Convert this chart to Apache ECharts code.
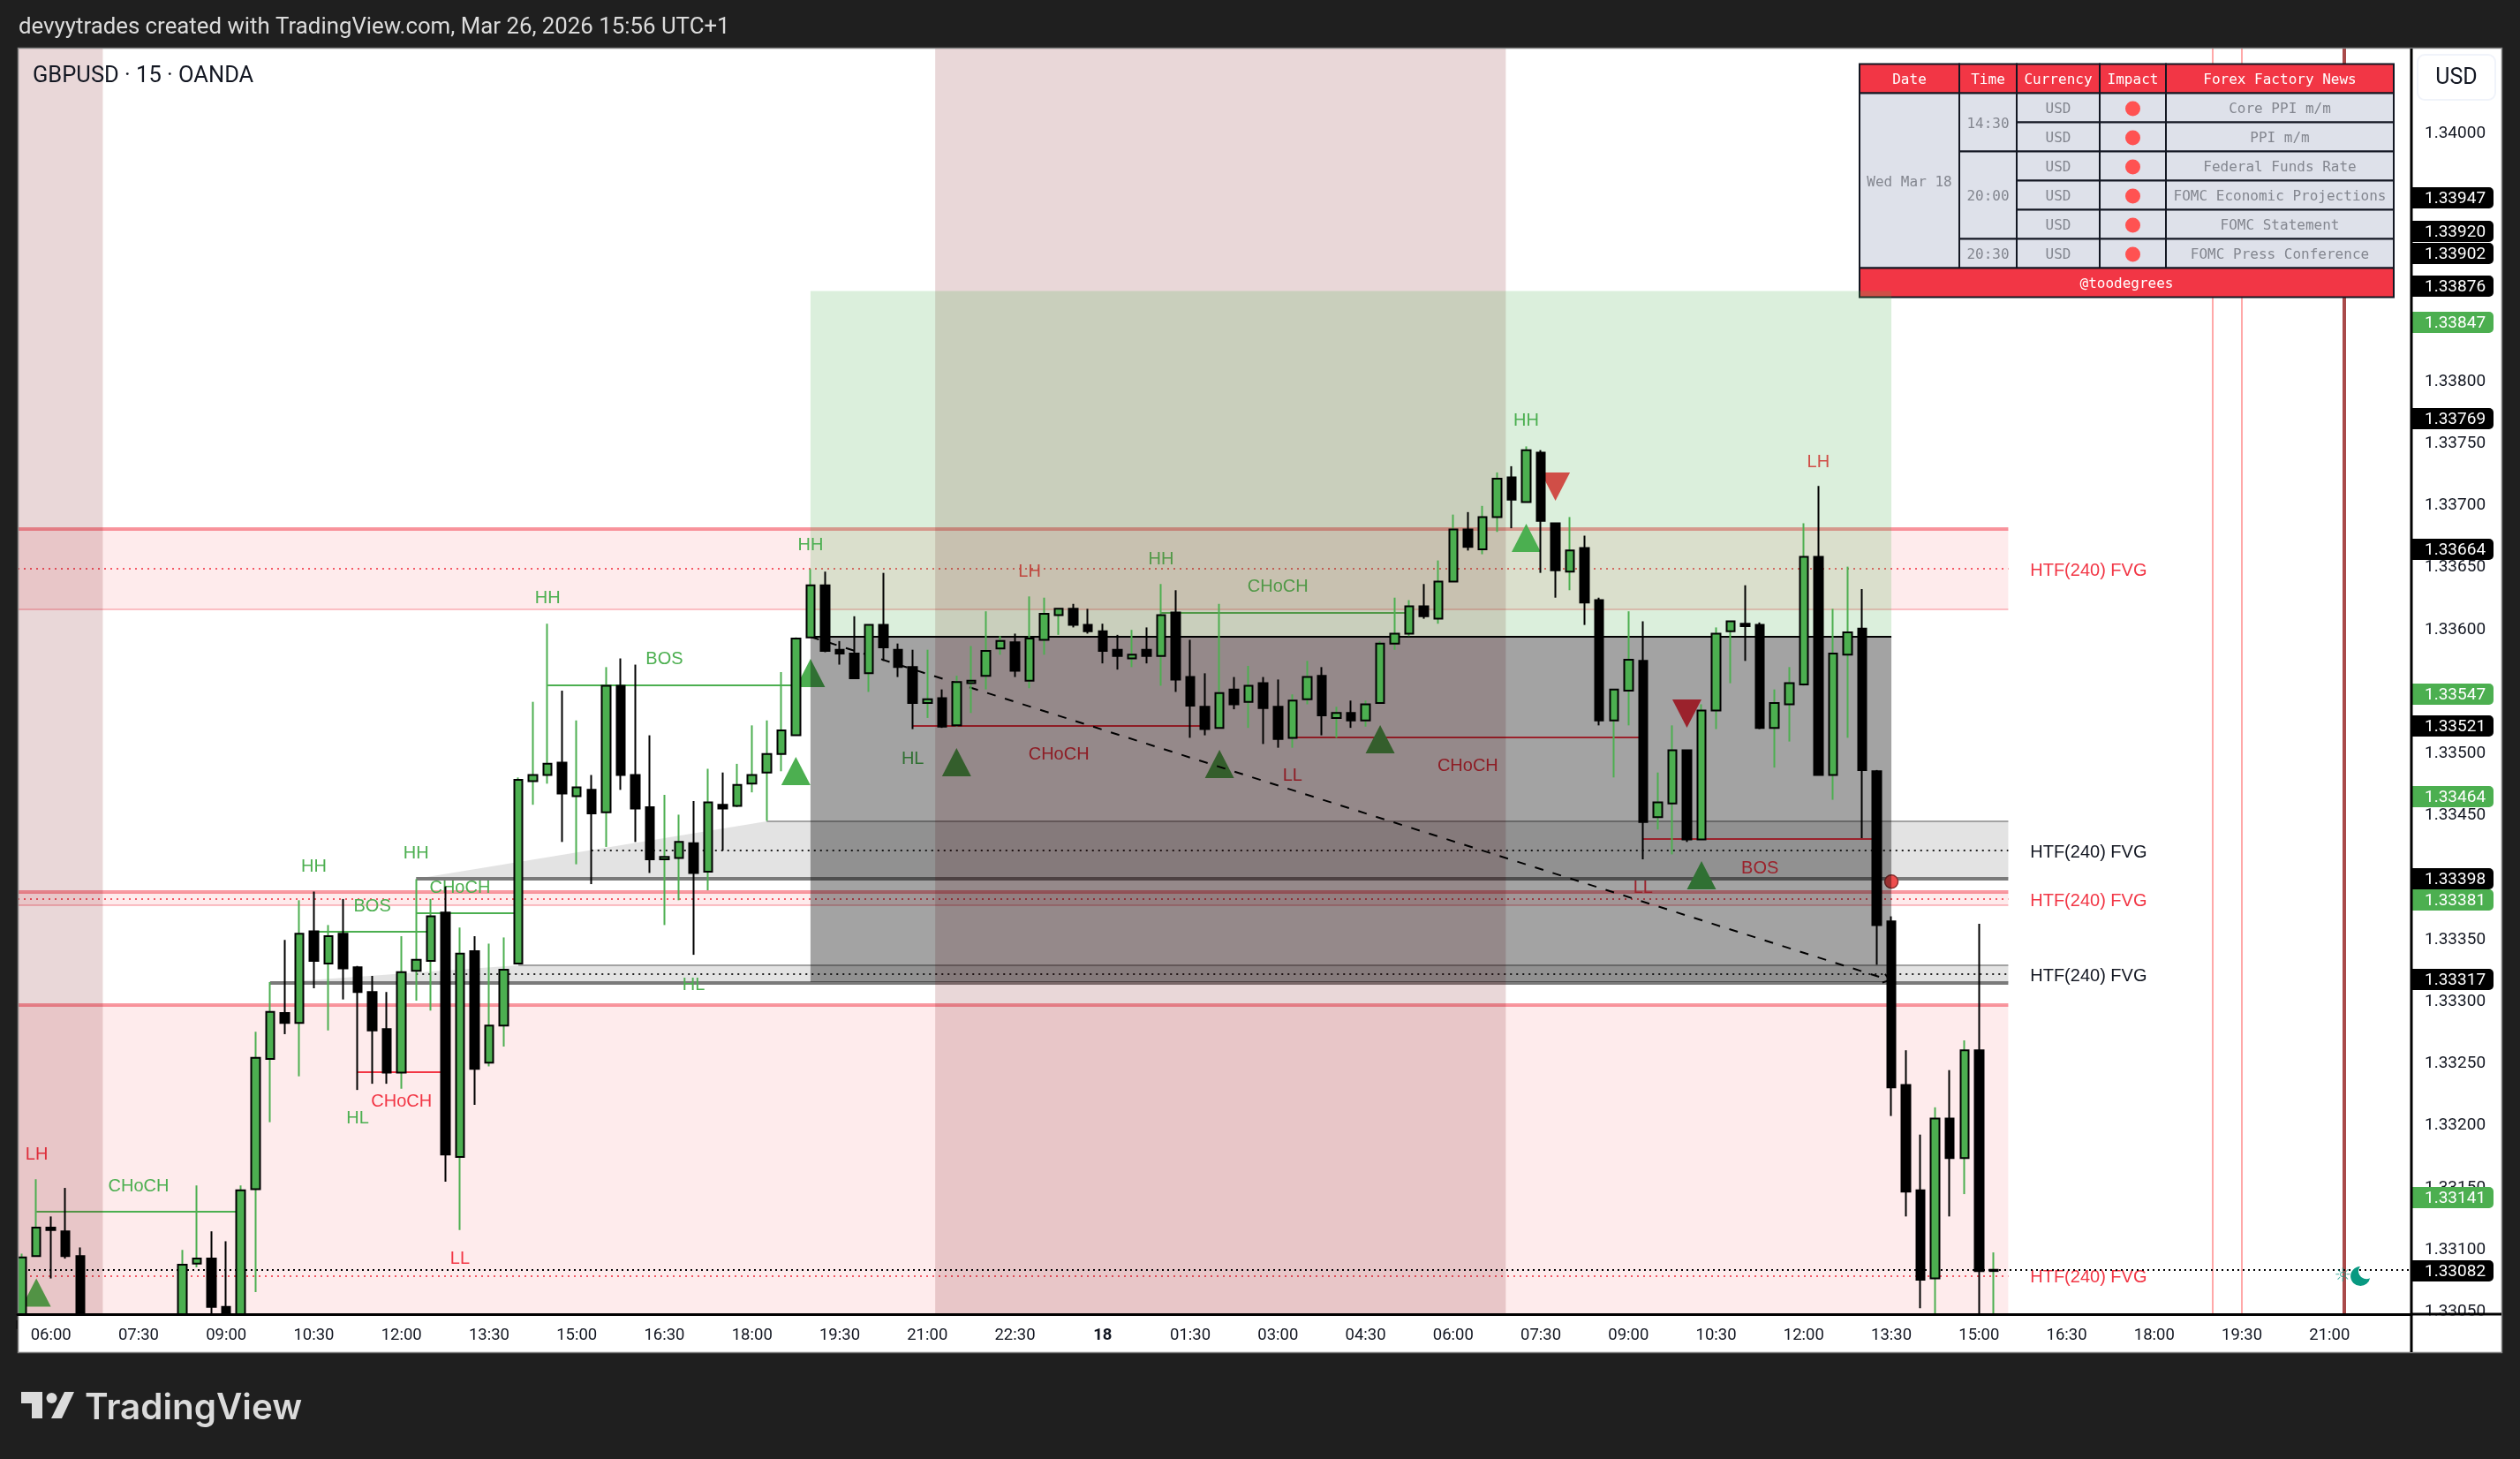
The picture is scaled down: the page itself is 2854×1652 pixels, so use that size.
<!DOCTYPE html>
<html><head><meta charset="utf-8">
<style>html,body{margin:0;padding:0;background:#1f1f1f}#c{width:2854px;height:1652px}</style>
<script src="https://cdn.jsdelivr.net/npm/echarts@6/dist/echarts.min.js"></script>
</head><body><div id="c"></div>
<script>
// ---- candles (15 minute bars, index 0 = first bar on the chart) ----
const opens = [
1.33035,1.33093,1.33116,1.33113,1.33093,1.33030,1.33022,1.33028,1.33030,1.33024,
1.33030,1.33040,1.33087,1.33091,1.33052,1.33042,1.33147,1.33252,1.33289,1.33281,
1.33355,1.33329,1.33353,1.33326,1.33306,1.33276,1.33241,1.33323,1.33331,1.33370,
1.33173,1.33339,1.33249,1.33279,1.33329,1.33476,1.33481,1.33491,1.33464,1.33469,
1.33451,1.33553,1.33481,1.33455,1.33413,1.33414,1.33426,1.33403,1.33457,1.33456,
1.33474,1.33483,1.33498,1.33513,1.33592,1.33634,1.33582,1.33579,1.33563,1.33602,
1.33582,1.33568,1.33539,1.33543,1.33521,1.33555,1.33561,1.33583,1.33588,1.33557,
1.33590,1.33610,1.33615,1.33602,1.33597,1.33582,1.33575,1.33582,1.33577,1.33612,
1.33560,1.33536,1.33519,1.33550,1.33540,1.33555,1.33536,1.33511,1.33542,1.33561,
1.33527,1.33531,1.33525,1.33539,1.33587,1.33595,1.33617,1.33607,1.33637,1.33679,
1.33663,1.33689,1.33721,1.33701,1.33741,1.33684,1.33645,1.33664,1.33622,1.33525,
1.33549,1.33573,1.33447,1.33458,1.33501,1.33429,1.33533,1.33597,1.33603,1.33602,
1.33519,1.33538,1.33554,1.33657,1.33481,1.33578,1.33599,1.33484,1.33363,1.33231,
1.33146,1.33075,1.33204,1.33172,1.33259,1.33081];
const closes = [
1.33092,1.33116,1.33114,1.33093,1.33030,1.33022,1.33028,1.33030,1.33024,1.33030,
1.33036,1.33086,1.33091,1.33052,1.33040,1.33146,1.33253,1.33290,1.33281,1.33353,
1.33331,1.33351,1.33325,1.33306,1.33275,1.33241,1.33322,1.33332,1.33367,1.33175,
1.33337,1.33244,1.33279,1.33324,1.33477,1.33481,1.33490,1.33466,1.33471,1.33450,
1.33553,1.33481,1.33454,1.33413,1.33415,1.33427,1.33402,1.33459,1.33454,1.33473,
1.33481,1.33498,1.33517,1.33591,1.33634,1.33581,1.33579,1.33559,1.33602,1.33584,
1.33568,1.33539,1.33542,1.33520,1.33556,1.33557,1.33581,1.33589,1.33565,1.33591,
1.33611,1.33615,1.33602,1.33597,1.33581,1.33577,1.33578,1.33577,1.33610,1.33558,
1.33537,1.33518,1.33547,1.33538,1.33553,1.33535,1.33510,1.33541,1.33560,1.33529,
1.33531,1.33525,1.33538,1.33587,1.33595,1.33617,1.33609,1.33637,1.33679,1.33665,
1.33689,1.33720,1.33703,1.33743,1.33686,1.33646,1.33662,1.33620,1.33525,1.33550,
1.33574,1.33443,1.33459,1.33501,1.33429,1.33533,1.33595,1.33605,1.33601,1.33519,
1.33539,1.33555,1.33657,1.33481,1.33579,1.33596,1.33485,1.33360,1.33229,1.33145,
1.33074,1.33204,1.33172,1.33259,1.33081,1.33082];
const lows = [
1.33030,1.33093,1.33075,1.33091,1.33025,1.33015,1.33018,1.33020,1.33016,1.33020,
1.33025,1.33035,1.33084,1.33040,1.33030,1.33038,1.33064,1.33201,1.33272,1.33238,
1.33309,1.33275,1.33300,1.33227,1.33232,1.33232,1.33228,1.33299,1.33291,1.33153,
1.33114,1.33215,1.33246,1.33262,1.33329,1.33457,1.33474,1.33427,1.33409,1.33393,
1.33423,1.33469,1.33427,1.33402,1.33360,1.33380,1.33336,1.33388,1.33420,1.33455,
1.33467,1.33444,1.33484,1.33513,1.33592,1.33580,1.33570,1.33559,1.33548,1.33573,
1.33560,1.33518,1.33527,1.33519,1.33520,1.33531,1.33550,1.33578,1.33560,1.33551,
1.33578,1.33594,1.33600,1.33595,1.33571,1.33566,1.33568,1.33571,1.33553,1.33548,
1.33511,1.33513,1.33519,1.33534,1.33519,1.33506,1.33503,1.33503,1.33538,1.33513,
1.33511,1.33519,1.33520,1.33539,1.33582,1.33593,1.33607,1.33603,1.33637,1.33662,
1.33659,1.33677,1.33680,1.33701,1.33644,1.33624,1.33630,1.33602,1.33521,1.33479,
1.33521,1.33413,1.33437,1.33417,1.33427,1.33429,1.33518,1.33555,1.33573,1.33518,
1.33487,1.33508,1.33553,1.33481,1.33461,1.33511,1.33430,1.33328,1.33206,1.33125,
1.33051,1.33035,1.33125,1.33143,1.33040,1.33038];
const highs = [
1.33095,1.33155,1.33125,1.33148,1.33100,1.33038,1.33035,1.33040,1.33036,1.33040,
1.33042,1.33098,1.33150,1.33113,1.33105,1.33150,1.33274,1.33314,1.33348,1.33380,
1.33387,1.33360,1.33381,1.33327,1.33319,1.33306,1.33351,1.33397,1.33381,1.33391,
1.33358,1.33351,1.33345,1.33350,1.33479,1.33540,1.33603,1.33549,1.33525,1.33481,
1.33568,1.33575,1.33570,1.33513,1.33465,1.33449,1.33460,1.33486,1.33483,1.33490,
1.33521,1.33525,1.33564,1.33592,1.33647,1.33645,1.33589,1.33609,1.33602,1.33644,
1.33587,1.33582,1.33582,1.33550,1.33561,1.33585,1.33613,1.33593,1.33595,1.33625,
1.33624,1.33615,1.33619,1.33615,1.33603,1.33594,1.33598,1.33600,1.33635,1.33630,
1.33590,1.33563,1.33619,1.33560,1.33569,1.33560,1.33558,1.33546,1.33573,1.33568,
1.33536,1.33541,1.33541,1.33589,1.33624,1.33622,1.33635,1.33654,1.33691,1.33693,
1.33698,1.33725,1.33730,1.33746,1.33743,1.33684,1.33689,1.33674,1.33624,1.33550,
1.33613,1.33605,1.33483,1.33521,1.33501,1.33538,1.33600,1.33605,1.33634,1.33604,
1.33550,1.33568,1.33684,1.33714,1.33615,1.33649,1.33631,1.33485,1.33367,1.33259,
1.33191,1.33213,1.33243,1.33267,1.33361,1.33096];

// ---- axes ----
const tickBars = [2,8,14,20,26,32,38,44,50,56,62,68,74,80,86,92,98,104,110,116,122,128,134,140,146,152,158];
const tickLabels = ['06:00','07:30','09:00','10:30','12:00','13:30','15:00','16:30','18:00','19:30','21:00','22:30','18','01:30','03:00','04:30','06:00','07:30','09:00','10:30','12:00','13:30','15:00','16:30','18:00','19:30','21:00'];
const priceTicks = [1.34,1.338,1.3375,1.337,1.3365,1.336,1.335,1.3345,1.3335,1.333,1.3325,1.332,1.3315,1.331,1.3305];
const barMin = -0.278, barMax = 163.6, priceMin = 1.330462, priceMax = 1.340668;

// ---- FVG zones: start bar, bar where top edge is reached, end bar, top, bottom, middle, middle start bar ----
const redZones = [
 [-0.278,-0.278,136,1.336797,1.336149,1.336473,-0.278],
 [-0.278,-0.278,136,1.333863,1.333759,1.333809,-0.278],
 [-0.278,-0.278,136,1.332957,1.330462,1.330771,-0.278]];
const greyZones = [
 [27,51,136,1.334436,1.333973,1.334199,39],
 [17,34,136,1.333275,1.333133,1.333204,27]];
const fvgLabelBars = [137.5,137.5,137.5,137.5,137.5];
const fvgLabelPrices = [1.336473,1.334199,1.333809,1.333204,1.330771];
const fvgLabelText = ['HTF(240) FVG','HTF(240) FVG','HTF(240) FVG','HTF(240) FVG','HTF(240) FVG'];
const fvgLabelKinds = ['r','k','r','k','r'];

// ---- structure lines: start bar, end bar, price ----
const greenLines = [[1,15,1.331288],[20,28,1.333546],[27,34,1.333695],[36,53,1.335534],[78,95,1.336117]];
const redLines = [[23,29,1.332415],[61,81,1.335205],[87,111,1.335113],[111,127,1.334294]];

const labelText = ['LH','CHoCH','HH','BOS','HH','CHoCH','CHoCH','HL','LL','HL','HH','BOS','HH','HL','LH','CHoCH','HH','LL','CHoCH','CHoCH','HH','LH','LL','BOS'];
const labelKinds = ['r','g','g','g','g','g','r','g','r','g','g','g','g','g','r','r','g','r','g','r','g','r','r','r'];
const labelBars = [1.03,8,20,24,27,30,26,23,30,46,36,44,54,61,69,71,78,87,86,99,103,123,111,119];
const labelPrices = [1.331765,1.331509,1.334087,1.33376,1.334187,1.333916,1.332188,1.332052,1.330925,1.333128,1.336249,1.335754,1.336675,1.334954,1.336466,1.334985,1.336561,1.334814,1.336338,1.334894,1.337677,1.337349,1.333916,1.334073];

// ---- signals ----
const upSignals = [[1,1.330637],[53,1.334842],[54,1.335633],[64,1.334913],[82,1.334899],[93,1.335098],[103,1.336722],[115,1.334002]];
const downSignals = [[105,1.337136],[114,1.335305]];
const alertDot = [[128,1.333950]];

// ---- shaded sessions and position tool ----
const sessionBars = [[-0.278,5.55],[62.54,101.6]];
const sessionVerticals = [150,152];
const nowVertical = [159];
const position = {start:54, end:128, target:1.338713, entry:1.335925, stop:1.33314};
const pathBars = [54,127.9];
const pathPrices = [1.335925,1.333155];
const lastPrice = 1.33082;
const iconBars = [158.9,160.1];
const iconPrice = 1.330768;

// ---- price tags ----
const tagValues = [1.33947,1.33920,1.33902,1.33876,1.33847,1.33769,1.33664,1.33547,1.33521,1.33464,1.33398,1.33381,1.33317,1.33141,1.33082];
const tagKinds  = ['k','k','k','k','g','k','k','g','k','g','k','g','k','g','k'];

// ---- news table ----
const tableHeaders = ['Date','Time','Currency','Impact','Forex Factory News'];
const newsDate = 'Wed Mar 18';
const newsTimes = [['14:30',2],['20:00',3],['20:30',1]];
const newsCurrency = ['USD','USD','USD','USD','USD','USD'];
const newsTitles = ['Core PPI m/m','PPI m/m','Federal Funds Rate','FOMC Economic Projections','FOMC Statement','FOMC Press Conference'];
const tableFooter = '@toodegrees';

const GREEN='#4CAF50', RED='#F23645';
const LAB='"Liberation Sans",Arial,sans-serif', AX='Roboto,sans-serif', MONO='"DejaVu Sans Mono",monospace';
const idx = opens.map((_,i)=>i);

function line(x1,y1,x2,y2,style){return {type:'line',shape:{x1,y1,x2,y2},style:Object.assign({fill:null},style)};}
function rnd(v){return Math.round(v);}

function zoneItem(colors){return function(p,api){
  const xs=api.coord([api.value(0),api.value(3)]), xk=api.coord([api.value(1),api.value(3)]), xe=api.coord([api.value(2),api.value(3)]);
  const yb=api.coord([api.value(0),api.value(4)])[1], ym=rnd(api.coord([api.value(6),api.value(5)])[1]), xm=api.coord([api.value(6),api.value(5)])[0];
  const yt=xs[1];
  return {type:'group',children:[
    {type:'polygon',shape:{points:[[xs[0],yb],[xk[0],yt],[xe[0],yt],[xe[0],yb]]},style:{fill:colors.fill}},
    line(xk[0],rnd(yt),xe[0],rnd(yt),{stroke:colors.top,lineWidth:colors.topW}),
    line(xs[0],rnd(yb),xe[0],rnd(yb),{stroke:colors.bottom,lineWidth:colors.botW}),
    line(xm,ym,xe[0],ym,{stroke:colors.mid,lineWidth:2,lineDash:[2,5]})
  ]};
};}
function segItem(color){return function(p,api){
  const a=api.coord([api.value(0),api.value(2)]), b=api.coord([api.value(1),api.value(2)]);
  return line(a[0],rnd(a[1]),b[0],rnd(a[1]),{stroke:color,lineWidth:2});
};}
function textSeries(z,xs,ys,texts,kinds,align){
  const col={g:GREEN,r:RED,k:'#131722'};
  return {type:'custom',coordinateSystem:'cartesian2d',z,clip:false,silent:true,animation:false,
    data:xs.map((x,i)=>[x,ys[i]]),
    renderItem(p,api){
      const c=api.coord([api.value(0),api.value(1)]);
      return {type:'text',x:c[0],y:c[1]+2,style:{text:texts[p.dataIndex],fill:col[kinds[p.dataIndex]],font:'20px '+LAB,align,verticalAlign:'middle'}};
    }};
}

const series = [
 // vertical session lines
 {type:'custom',coordinateSystem:'cartesian2d',z:1,clip:true,silent:true,animation:false,
  data:sessionVerticals.map(b=>[b,priceMin]),
  renderItem(p,api){const x=rnd(api.coord([api.value(0),priceMin])[0]);return line(x,p.coordSys.y,x,p.coordSys.y+p.coordSys.height,{stroke:'#FFA8A8',lineWidth:2});}},
 {type:'custom',coordinateSystem:'cartesian2d',z:1,clip:true,silent:true,animation:false,
  data:nowVertical.map(b=>[b,priceMin]),
  renderItem(p,api){const x=rnd(api.coord([api.value(0),priceMin])[0]);return line(x,p.coordSys.y,x,p.coordSys.y+p.coordSys.height,{stroke:'#A94A4A',lineWidth:4});}},
 // FVG zones
 {type:'custom',coordinateSystem:'cartesian2d',z:2,clip:true,silent:true,animation:false,data:redZones,
  renderItem:zoneItem({fill:'rgba(242,54,69,0.1)',top:'rgba(242,54,69,0.5)',bottom:'rgba(242,54,69,0.3)',mid:'rgba(242,54,69,0.8)',topW:4,botW:2})},
 {type:'custom',coordinateSystem:'cartesian2d',z:2.1,clip:true,silent:true,animation:false,data:greyZones,
  renderItem:zoneItem({fill:'rgba(90,90,90,0.17)',top:'#A3A3A3',bottom:'#7A7A7A',mid:'#222',topW:2,botW:4})},
 textSeries(3,fvgLabelBars,fvgLabelPrices,fvgLabelText,fvgLabelKinds,'left'),
 // structure
 {type:'custom',coordinateSystem:'cartesian2d',z:3,clip:true,silent:true,animation:false,data:greenLines,renderItem:segItem(GREEN)},
 {type:'custom',coordinateSystem:'cartesian2d',z:3,clip:true,silent:true,animation:false,data:redLines,renderItem:segItem(RED)},
 textSeries(3.1,labelBars,labelPrices,labelText,labelKinds,'center'),
 // signals
 {type:'scatter',z:3.2,silent:true,animation:false,symbol:'triangle',symbolSize:[33,32],itemStyle:{color:GREEN,opacity:1},data:upSignals,clip:true},
 {type:'scatter',z:3.2,silent:true,animation:false,symbol:'triangle',symbolRotate:180,symbolSize:[33,32],itemStyle:{color:RED,opacity:1},data:downSignals,clip:true},
 {type:'scatter',z:3.3,silent:true,animation:false,symbol:'circle',symbolSize:15,itemStyle:{color:'#EF4E4E',borderColor:'#8A3030',borderWidth:1.5,opacity:1},data:alertDot,clip:false},
 // sessions
 {type:'custom',coordinateSystem:'cartesian2d',z:4.5,clip:true,silent:true,animation:false,
  data:sessionBars,
  renderItem(p,api){const a=api.coord([api.value(0),priceMax]),b=api.coord([api.value(1),priceMin]);return {type:'rect',shape:{x:a[0],y:a[1],width:b[0]-a[0],height:b[1]-a[1]},style:{fill:'rgba(120,5,10,0.16)'}};}},
 // position tool
 {type:'custom',coordinateSystem:'cartesian2d',z:5,clip:true,silent:true,animation:false,
  data:[[position.start,position.end,position.target,position.entry,position.stop]],
  renderItem(p,api){
   const a=api.coord([api.value(0),api.value(2)]),b=api.coord([api.value(1),api.value(3)]),c=api.coord([api.value(1),api.value(4)]);
   return {type:'group',children:[
    {type:'rect',shape:{x:a[0],y:a[1],width:b[0]-a[0],height:b[1]-a[1]},style:{fill:'rgba(76,175,80,0.2)'}},
    {type:'rect',shape:{x:a[0],y:b[1],width:b[0]-a[0],height:c[1]-b[1]},style:{fill:'rgba(0,0,0,0.36)'}},
    line(a[0],rnd(b[1]),b[0],rnd(b[1]),{stroke:'#000',lineWidth:2})
   ]};
  }},
 // dashed path with arrow head
 {type:'custom',coordinateSystem:'cartesian2d',z:6,clip:true,silent:true,animation:false,
  data:[[pathBars[0],pathPrices[0],pathBars[1],pathPrices[1]]],
  renderItem(p,api){
   const a=api.coord([api.value(0),api.value(1)]),b=api.coord([api.value(2),api.value(3)]);
   const ang=Math.atan2(b[1]-a[1],b[0]-a[0]),s=9;
   return {type:'group',children:[
    line(a[0],a[1],b[0],b[1],{stroke:'#000',lineWidth:2,lineDash:[10,11]}),
    line(b[0],b[1],b[0]-s*Math.cos(ang-0.6),b[1]-s*Math.sin(ang-0.6),{stroke:'#000',lineWidth:2}),
    line(b[0],b[1],b[0]-s*Math.cos(ang+0.6),b[1]-s*Math.sin(ang+0.6),{stroke:'#000',lineWidth:2})
   ]};
  }},
 // last price line
 {type:'custom',coordinateSystem:'cartesian2d',z:6.1,clip:true,silent:true,animation:false,
  data:[[barMin,barMax,lastPrice]],
  renderItem(p,api){const a=api.coord([api.value(0),api.value(2)]),b=api.coord([api.value(1),api.value(2)]);return line(a[0],rnd(a[1]),b[0],rnd(a[1]),{stroke:'#000',lineWidth:2,lineDash:[2,4]});}},
 // candles: wicks, then bodies
 {type:'candlestick',z:7,silent:true,animation:false,barWidth:0,clip:true,
  itemStyle:{color:GREEN,color0:'#000',borderColor:GREEN,borderColor0:'#000',borderWidth:2},
  data:idx.map(i=>[i,opens[i],closes[i],lows[i],highs[i]])},
 {type:'candlestick',z:7.1,silent:true,animation:false,barWidth:10,clip:true,
  itemStyle:{color:GREEN,color0:'#000',borderColor:'#000',borderColor0:'#000',borderWidth:2},
  data:idx.map(i=>[i,opens[i],closes[i],Math.min(opens[i],closes[i]),Math.max(opens[i],closes[i])])},
 // session icons
 {type:'custom',coordinateSystem:'cartesian2d',z:8,clip:false,silent:true,animation:false,data:[[iconBars[0],iconPrice]],
  renderItem(p,api){const c=api.coord([api.value(0),api.value(1)]);return {type:'text',x:c[0],y:c[1],style:{text:'☼',fill:'rgba(8,153,129,0.75)',font:'22px "DejaVu Sans"',align:'center',verticalAlign:'middle'}};}},
 {type:'scatter',z:8,silent:true,animation:false,symbol:'path://M12 2 A10 10 0 1 0 22 14 A8 8 0 0 1 12 2 Z',symbolSize:22,itemStyle:{color:'#089981',opacity:1},data:[[iconBars[1],iconPrice]]},
 // price tags
 {type:'custom',coordinateSystem:'cartesian2d',z:20,clip:false,silent:true,animation:false,
  data:tagValues.map(v=>[barMax,v]),
  renderItem(p,api){
   const c=api.coord([api.value(0),api.value(1)]),y=rnd(c[1])+1;
   return {type:'group',children:[
    {type:'rect',shape:{x:c[0]+1,y:y-12,width:92,height:24,r:[0,5,5,0]},style:{fill:tagKinds[p.dataIndex]==='g'?GREEN:'#000'}},
    {type:'text',x:c[0]+15,y:y+1,style:{text:api.value(1).toFixed(5),fill:'#fff',font:'19px '+AX,align:'left',verticalAlign:'middle'}}
   ]};
  }}
];

// ---- static furniture ----
const els = [];
els.push({type:'rect',z:-2,shape:{x:20.5,y:54.5,width:2813,height:1477},style:{fill:'#fff'}});
// panes that mask what runs past the plot area
els.push({type:'rect',z:18,shape:{x:21,y:1489.5,width:2812,height:41},style:{fill:'#fff'}});
els.push({type:'rect',z:18,shape:{x:0,y:50,width:20.5,height:1445},style:{fill:'#1F1F1F'}});
els.push({type:'rect',z:18.5,shape:{x:20.5,y:54.5,width:2813,height:1477},style:{fill:null,stroke:'#808080',lineWidth:1.5}});
els.push({type:'rect',z:21,shape:{x:2729.5,y:55,width:3,height:1476},style:{fill:'#000'}});
els.push({type:'rect',z:21,shape:{x:2731,y:1486.5,width:102,height:3},style:{fill:'#000'}});
els.push({type:'rect',z:1,shape:{x:2738,y:62,width:88,height:51,r:8},style:{fill:'#fff',stroke:'#F0F3FA',lineWidth:2}});
function txt(x,y,text,font,fill,align,z){els.push({type:'text',z:z||4,x,y:y+2,style:{text,font,fill,align:align||'center',verticalAlign:'middle'}});}
txt(2782,87,'USD','25px '+AX,'#131722','center',2);
txt(21,30,'devyytrades created with TradingView.com, Mar 26, 2026 15:56 UTC+1','25.8px '+AX,'#DBDBDB','left',2);
txt(37,85,'GBPUSD · 15 · OANDA','25.5px '+AX,'#131722','left',9);
txt(96,1593,'TradingView','600 40.4px Inter,'+AX,'#DBDBDB','left',2);
els.push({type:'polygon',z:2,shape:{points:[[24,1576],[48,1576],[48,1606],[36,1606],[36,1589],[24,1589]]},style:{fill:'#DBDBDB'}});
els.push({type:'circle',z:2,shape:{cx:58.5,cy:1583,r:6},style:{fill:'#DBDBDB'}});
els.push({type:'polygon',z:2,shape:{points:[[73,1576],[84,1576],[70,1606],[58,1606]]},style:{fill:'#DBDBDB'}});
// table
const colX=[2106,2219,2284,2378,2453,2711], rowY=[72.5,105.5,138.5,171.5,204.5,237.5,270.5,303.5,336.5];
const TF='16px '+MONO, HEAD=RED, CELL='#DEE1EA', INK='#83868F';
function cell(x0,y0,x1,y1,fill){els.push({type:'rect',z:4,shape:{x:x0,y:y0,width:x1-x0,height:y1-y0},style:{fill,stroke:'#131722',lineWidth:2}});}
tableHeaders.forEach((h,i)=>{cell(colX[i],rowY[0],colX[i+1],rowY[1],HEAD);txt((colX[i]+colX[i+1])/2,(rowY[0]+rowY[1])/2,h,TF,'#fff');});
cell(colX[0],rowY[1],colX[1],rowY[7],CELL);txt((colX[0]+colX[1])/2,(rowY[1]+rowY[7])/2,newsDate,TF,INK);
let r=1;newsTimes.forEach(([t,n])=>{cell(colX[1],rowY[r],colX[2],rowY[r+n],CELL);txt((colX[1]+colX[2])/2,(rowY[r]+rowY[r+n])/2,t,TF,INK);r+=n;});
newsTitles.forEach((t,i)=>{
  const a=rowY[i+1],b=rowY[i+2],m=(a+b)/2;
  cell(colX[2],a,colX[3],b,CELL);txt((colX[2]+colX[3])/2,m,newsCurrency[i],TF,INK);
  cell(colX[3],a,colX[4],b,CELL);els.push({type:'circle',z:4,shape:{cx:(colX[3]+colX[4])/2,cy:m+1,r:8.5},style:{fill:'#FF5252'}});
  cell(colX[4],a,colX[5],b,CELL);txt((colX[4]+colX[5])/2,m,t,TF,INK);
});
cell(colX[0],rowY[7],colX[5],rowY[8],HEAD);txt((colX[0]+colX[5])/2,(rowY[7]+rowY[8])/2,tableFooter,TF,'#fff');

const chart = echarts.init(document.getElementById('c'),null,{renderer:'canvas',width:2854,height:1652});
chart.setOption({
 backgroundColor:'#1F1F1F',animation:false,
 grid:{left:20,right:123,top:55,bottom:164,containLabel:false},
 xAxis:{type:'value',min:barMin,max:barMax,z:19,
   axisLine:{show:true,onZero:false,lineStyle:{color:'#000',width:3}},axisTick:{show:false},splitLine:{show:false},
   axisLabel:{show:true,customValues:tickBars,margin:15,fontFamily:AX,fontSize:18.5,color:'#131722',
     formatter:v=>{const s=tickLabels[tickBars.indexOf(v)];return s==='18'?'{b|18}':s;},
     rich:{b:{fontWeight:'bold',fontFamily:AX,fontSize:18.5,color:'#131722'}}}},
 yAxis:{type:'value',position:'right',min:priceMin,max:priceMax,z:0,
   axisLine:{show:false},axisTick:{show:false},splitLine:{show:false},
   axisLabel:{show:true,customValues:priceTicks,margin:15,fontFamily:AX,fontSize:19,color:'#131722',
     formatter:v=>'{a|'+v.toFixed(5)+'}',
     rich:{a:{fontFamily:AX,fontSize:19,color:'#131722',padding:[5,0,0,0]}}}},
 graphic:{elements:els},
 series
});
</script></body></html>
